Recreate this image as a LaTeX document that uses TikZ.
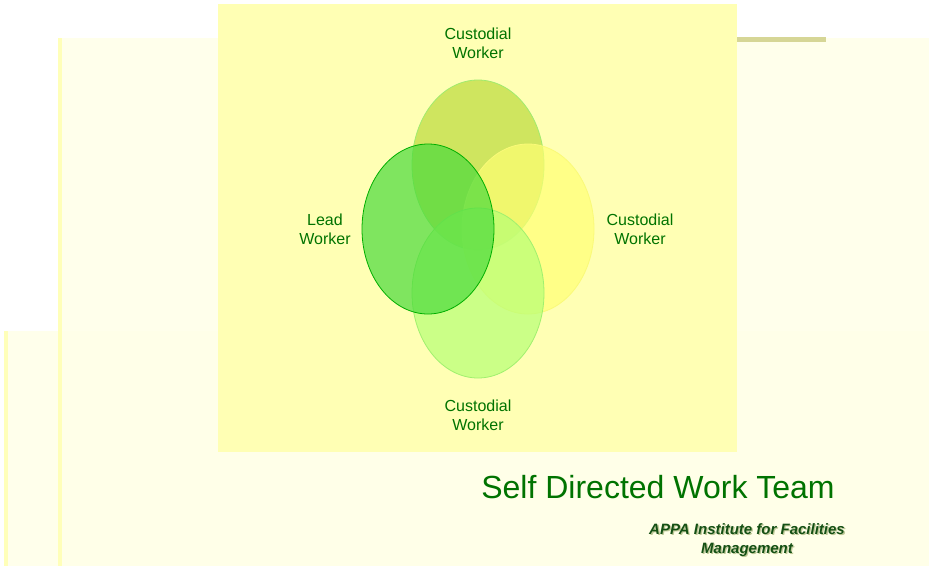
\documentclass[tikz,border=0pt]{standalone}
\usepackage{fontspec}
\setmainfont{Liberation Sans}
\begin{document}
\begin{tikzpicture}[x=1pt,y=-1pt,
  lbl/.style={text=txtgreen,font=\fontsize{16}{19}\selectfont,align=center},
  venn/.style={fill opacity=0.7,line width=0.8pt}]
\definecolor{txtgreen}{RGB}{0,115,0}
\definecolor{bgA}{RGB}{255,255,232}
\definecolor{bgyel}{RGB}{255,255,180}
\definecolor{stripe}{RGB}{255,255,185}
\definecolor{barol}{RGB}{214,214,150}
\definecolor{cTop}{RGB}{188,219,60}
\definecolor{cRight}{RGB}{255,255,116}
\definecolor{cBot}{RGB}{182,255,117}
\definecolor{cLeft}{RGB}{74,219,60}
\useasboundingbox (0,0) rectangle (929,566);
\fill[white] (0,0) rectangle (929,566);
% background panels
\fill[bgA,opacity=0.85] (58,38) rectangle (929,566);
\fill[bgA,opacity=0.85] (4,331) rectangle (929,566);
\fill[stripe] (58,38) rectangle (62,566);
\fill[stripe] (4,331) rectangle (8,566);
\fill[barol] (737,37) rectangle (826,42);
\fill[bgyel] (218,4) rectangle (737,452);
% ellipses
\draw[venn,fill=cTop,draw={rgb,255:red,160;green,235;blue,110}] (478,165) ellipse [x radius=66,y radius=85];
\draw[venn,fill=cRight,draw={rgb,255:red,250;green,250;blue,120}] (528,229) ellipse [x radius=66,y radius=85];
\draw[venn,fill=cBot,draw={rgb,255:red,160;green,240;blue,110}] (478,293) ellipse [x radius=66,y radius=85];
\draw[venn,fill=cLeft,draw={rgb,255:red,0;green,175;blue,0},draw opacity=1] (428,229) ellipse [x radius=66,y radius=85];
% labels
\node[lbl] (ctop) at (478,43) {Custodial\\Worker};
\node[lbl] (lead) at (325,229) {Lead\\Worker};
\node[lbl] (cright) at (640,229) {Custodial\\Worker};
\node[lbl] (cbot) at (478,415) {Custodial\\Worker};
\node[text=txtgreen,font=\fontsize{32}{36}\selectfont,inner sep=0] (title) at (658,487) {Self Directed Work Team};
\node[text={rgb,255:red,190;green,200;blue,150},font=\fontsize{15}{19}\selectfont\bfseries\itshape,align=center] (appash) at (748.3,541.3) {APPA Institute for Facilities\\Management};
\node[text={rgb,255:red,20;green,80;blue,20},font=\fontsize{15}{19}\selectfont\bfseries\itshape,align=center] (appa) at (747,540) {APPA Institute for Facilities\\Management};
\end{tikzpicture}
\end{document}
